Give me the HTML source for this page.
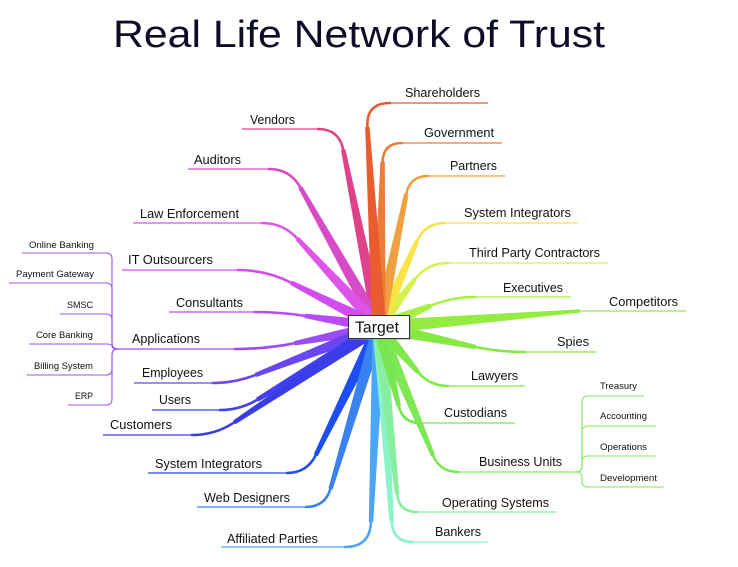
<!DOCTYPE html>
<html><head><meta charset="utf-8"><style>
html,body{margin:0;padding:0;background:#fff;}
svg{display:block;}
text{font-family:"Liberation Sans",Arial,sans-serif;fill:#111;}
.t{font-size:12.5px;}
.s{font-size:9.5px;}
.u{fill:none;stroke-width:1.3;}
.c{fill:none;stroke-width:2.6;stroke-linecap:round;}
</style></head><body>
<svg width="738" height="567" viewBox="0 0 738 567" xmlns="http://www.w3.org/2000/svg">
<text x="113" y="47" font-size="38" textLength="492" lengthAdjust="spacingAndGlyphs" style="fill:#0c0c26">Real Life Network of Trust</text>

<!-- left sub-bracket -->
<g fill="none" stroke="#9a55f0" stroke-width="1.1">
<path d="M22,253 L106,253 Q112,253 112,259 L112,343 Q112,349 118,349"/>
<path d="M9,283 L106,283 Q112,283 112,289 L112,343 Q112,349 118,349"/>
<path d="M60,314 L106,314 Q112,314 112,320 L112,343 Q112,349 118,349"/>
<path d="M29,344 L106,344 Q112,344 112,346 Q112,349 118,349"/>
<path d="M27,375 L106,375 Q112,375 112,369 L112,355 Q112,349 118,349"/>
<path d="M68,405 L106,405 Q112,405 112,399 L112,355 Q112,349 118,349"/>
</g>
<!-- right sub-bracket -->
<g fill="none" stroke="#7ee860" stroke-width="1.1">
<path d="M644,396 L588,396 Q582,396 582,402 L582,466 Q582,472 576,472"/>
<path d="M656,426 L588,426 Q582,426 582,432 L582,466 Q582,472 576,472"/>
<path d="M656,456 L588,456 Q582,456 582,462 L582,466 Q582,472 576,472"/>
<path d="M664,487 L588,487 Q582,487 582,481 L582,478 Q582,472 576,472"/>
</g>

<!-- LEFT branches -->
<g>
<polygon fill="#e0428a" points="385.4,325.7 345.4,149.2 341.0,150.0 372.6,328.3"/>
<path class="c" stroke="#e0428a" d="M343.2,149.6 Q339,129 318,129"/>
<path class="u" stroke="#e0428a" d="M318,129 L242,129"/>

<polygon fill="#d84bc6" points="384.7,323.8 302.2,186.2 298.4,188.4 373.3,330.2"/>
<path class="c" stroke="#d84bc6" d="M300.3,187.3 Q290,169 269,169"/>
<path class="u" stroke="#d84bc6" d="M269,169 L188,169"/>

<polygon fill="#dd55e6" points="383.8,322.6 298.8,236.9 295.6,239.9 374.2,331.4"/>
<path class="c" stroke="#dd55e6" d="M297.2,238.4 Q283,223 262,223"/>
<path class="u" stroke="#dd55e6" d="M262,223 L133,223"/>

<polygon fill="#d24cf0" points="381.9,321.2 292,280.6 290,284.6 376.1,332.8"/>
<path class="c" stroke="#d24cf0" d="M291,282.6 Q266,270 238,270"/>
<path class="u" stroke="#d24cf0" d="M238,270 L122,270"/>

<polygon fill="#b84cf4" points="380,320.6 305,313.6 304.4,318 378,333.4"/>
<path class="c" stroke="#b84cf4" d="M304.7,315.8 Q280,312 255,312"/>
<path class="u" stroke="#b84cf4" d="M255,312 L169,312"/>

<polygon fill="#9c4cf4" points="377.8,320.6 294.1,341.1 294.9,345.5 380.2,333.4"/>
<path class="c" stroke="#9c4cf4" d="M294.5,343.3 Q265,349 235,349"/>
<path class="u" stroke="#9c4cf4" d="M235,349 L117,349"/>

<polygon fill="#6a46f2" points="376.6,320.9 254.7,373 256.3,377 381.4,333.1"/>
<path class="c" stroke="#6a46f2" d="M255.5,375 Q235,383 213,383"/>
<path class="u" stroke="#6a46f2" d="M213,383 L134,383"/>

<polygon fill="#4040f0" points="375.7,321.4 256.1,397.8 258.3,401.6 382.3,332.6"/>
<path class="c" stroke="#4040f0" d="M257.2,399.7 Q240,410 220,410"/>
<path class="u" stroke="#4040f0" d="M220,410 L152,410"/>

<polygon fill="#3a3ce6" points="375.4,321.6 233,420.6 235.4,424.2 382.6,332.4"/>
<path class="c" stroke="#3a3ce6" d="M234.2,422.4 Q215,435 192,435"/>
<path class="u" stroke="#3a3ce6" d="M192,435 L103,435"/>

<polygon fill="#1e4ef2" points="373.2,324.1 313.8,454.1 317.8,456.1 384.8,329.9"/>
<path class="c" stroke="#1e4ef2" d="M315.8,455.1 Q307,473 287,473"/>
<path class="u" stroke="#1e4ef2" d="M287,473 L148,473"/>

<polygon fill="#3a82f2" points="372.8,325.1 328.4,488.2 332.6,489.4 385.2,328.9"/>
<path class="c" stroke="#3a82f2" d="M330.5,488.8 Q325,507 306,507"/>
<path class="u" stroke="#3a82f2" d="M306,507 L197,507"/>

<polygon fill="#4aa6f6" points="372.5,326.7 368.8,522 373.2,522 385.5,327.3"/>
<path class="c" stroke="#4aa6f6" d="M371,522 Q370,547 345,547"/>
<path class="u" stroke="#4aa6f6" d="M345,547 L221,547"/>
</g>

<!-- RIGHT branches -->
<g>
<polygon fill="#88f4c8" points="372.5,327.4 389.5,522.1 393.9,521.9 385.5,326.6"/>
<path class="c" stroke="#88f4c8" d="M391.7,522 Q393,542 413,542"/>
<path class="u" stroke="#88f4c8" d="M413,542 L488,542"/>

<polygon fill="#86f0a0" points="372.5,327.7 394.9,494.3 399.3,493.9 385.5,326.3"/>
<path class="c" stroke="#86f0a0" d="M397.1,494.1 Q399,512 417,512"/>
<path class="u" stroke="#86f0a0" d="M417,512 L557,512"/>

<polygon fill="#7ee854" points="373,329.5 431,456.3 435,454.6 385,324.5"/>
<path class="c" stroke="#7ee854" d="M433,455.4 Q440,472 458,472"/>
<path class="u" stroke="#7ee854" d="M458,472 L577,472"/>

<polygon fill="#78e650" points="372.7,328.6 396.8,407 401,406 385.3,325.4"/>
<path class="c" stroke="#78e650" d="M398.9,406.5 Q403,423 420,423"/>
<path class="u" stroke="#78e650" d="M420,423 L515,423"/>

<polygon fill="#80e84a" points="374.1,331.3 416.5,373.8 419.9,371 383.9,322.8"/>
<path class="c" stroke="#80e84a" d="M418.2,372.4 Q430,386 448,386"/>
<path class="u" stroke="#80e84a" d="M448,386 L525,386"/>

<polygon fill="#86e844" points="377.6,333.9 475.1,349.2 475.9,344.9 380.4,320.2"/>
<path class="c" stroke="#86e844" d="M475.5,347 Q500,352 525,352"/>
<path class="u" stroke="#86e844" d="M525,352 L596,352"/>

<polygon fill="#94ec42" points="379.6,334 580.1,312.6 579.9,309.4 378.4,320"/>
<path class="u" stroke="#94ec42" d="M579,311 L686,311"/>

<polygon fill="#a8f044" points="381.7,333.5 431.7,308 429.8,303.4 376.3,320.5"/>
<path class="c" stroke="#a8f044" stroke-width="3" d="M430.7,305.7 Q452,297 475,297"/>
<path class="u" stroke="#a8f044" d="M475,297 L571,297"/>

<polygon fill="#d6f24a" points="384.2,330.9 416.2,281.1 412.6,278.5 373.8,323.1"/>
<path class="c" stroke="#d6f24a" d="M414.4,279.8 Q427,263 448,263"/>
<path class="u" stroke="#d6f24a" d="M448,263 L608,263"/>

<polygon fill="#f8e448" points="385,329.6 418.9,242.2 414.9,240.4 373,324.4"/>
<path class="c" stroke="#f8e448" d="M416.9,241.3 Q425,223 445,223"/>
<path class="u" stroke="#f8e448" d="M445,223 L578,223"/>

<polygon fill="#f0a040" points="385.4,328.3 408.6,194 404.2,193.2 372.6,325.7"/>
<path class="c" stroke="#f0a040" d="M406.4,193.6 Q410,176 428,176"/>
<path class="u" stroke="#f0a040" d="M428,176 L505,176"/>

<polygon fill="#ec7c36" points="385.5,327.1 384.8,162 380.4,162 372.5,326.9"/>
<path class="c" stroke="#ec7c36" d="M382.6,162 Q383,143 402,143"/>
<path class="u" stroke="#ec7c36" d="M402,143 L502,143"/>

<polygon fill="#e85c30" points="386,326.6 369.6,126.9 365.2,127.1 372,327.4"/>
<path class="c" stroke="#e85c30" d="M367.4,127 Q366,103 390,103"/>
<path class="u" stroke="#e85c30" d="M390,103 L488,103"/>
</g>

<!-- Target box -->
<rect x="349.5" y="316.5" width="61" height="23" fill="#999"/>
<rect x="348.5" y="315.5" width="61" height="23" fill="#fff" stroke="#333" stroke-width="1"/>
<text x="355" y="332.5" font-size="15.5" textLength="44" lengthAdjust="spacingAndGlyphs">Target</text>

<!-- Left labels -->
<text class="t" x="250" y="124" textLength="45" lengthAdjust="spacingAndGlyphs">Vendors</text>
<text class="t" x="194" y="164" textLength="47" lengthAdjust="spacingAndGlyphs">Auditors</text>
<text class="t" x="140" y="218" textLength="99" lengthAdjust="spacingAndGlyphs">Law Enforcement</text>
<text class="t" x="128" y="264" textLength="85" lengthAdjust="spacingAndGlyphs">IT Outsourcers</text>
<text class="t" x="176" y="307" textLength="67" lengthAdjust="spacingAndGlyphs">Consultants</text>
<text class="t" x="132" y="343" textLength="68" lengthAdjust="spacingAndGlyphs">Applications</text>
<text class="t" x="142" y="377" textLength="61" lengthAdjust="spacingAndGlyphs">Employees</text>
<text class="t" x="159" y="404" textLength="32" lengthAdjust="spacingAndGlyphs">Users</text>
<text class="t" x="110" y="429" textLength="62" lengthAdjust="spacingAndGlyphs">Customers</text>
<text class="t" x="155" y="468" textLength="107" lengthAdjust="spacingAndGlyphs">System Integrators</text>
<text class="t" x="204" y="502" textLength="86" lengthAdjust="spacingAndGlyphs">Web Designers</text>
<text class="t" x="227" y="543" textLength="91" lengthAdjust="spacingAndGlyphs">Affiliated Parties</text>

<text class="s" x="29" y="248" textLength="65" lengthAdjust="spacingAndGlyphs">Online Banking</text>
<text class="s" x="16" y="277" textLength="78" lengthAdjust="spacingAndGlyphs">Payment Gateway</text>
<text class="s" x="67" y="308" textLength="26" lengthAdjust="spacingAndGlyphs">SMSC</text>
<text class="s" x="36" y="338" textLength="57" lengthAdjust="spacingAndGlyphs">Core Banking</text>
<text class="s" x="34" y="369" textLength="59" lengthAdjust="spacingAndGlyphs">Billing System</text>
<text class="s" x="75" y="399" textLength="18" lengthAdjust="spacingAndGlyphs">ERP</text>

<!-- Right labels -->
<text class="t" x="405" y="97" textLength="75" lengthAdjust="spacingAndGlyphs">Shareholders</text>
<text class="t" x="424" y="137" textLength="70" lengthAdjust="spacingAndGlyphs">Government</text>
<text class="t" x="450" y="170" textLength="47" lengthAdjust="spacingAndGlyphs">Partners</text>
<text class="t" x="464" y="217" textLength="107" lengthAdjust="spacingAndGlyphs">System Integrators</text>
<text class="t" x="469" y="257" textLength="131" lengthAdjust="spacingAndGlyphs">Third Party Contractors</text>
<text class="t" x="503" y="292" textLength="60" lengthAdjust="spacingAndGlyphs">Executives</text>
<text class="t" x="609" y="306" textLength="69" lengthAdjust="spacingAndGlyphs">Competitors</text>
<text class="t" x="557" y="346" textLength="32" lengthAdjust="spacingAndGlyphs">Spies</text>
<text class="t" x="471" y="380" textLength="47" lengthAdjust="spacingAndGlyphs">Lawyers</text>
<text class="t" x="444" y="417" textLength="63" lengthAdjust="spacingAndGlyphs">Custodians</text>
<text class="t" x="479" y="466" textLength="83" lengthAdjust="spacingAndGlyphs">Business Units</text>
<text class="t" x="442" y="507" textLength="107" lengthAdjust="spacingAndGlyphs">Operating Systems</text>
<text class="t" x="435" y="536" textLength="46" lengthAdjust="spacingAndGlyphs">Bankers</text>

<text class="s" x="600" y="389" textLength="37" lengthAdjust="spacingAndGlyphs">Treasury</text>
<text class="s" x="600" y="419" textLength="47" lengthAdjust="spacingAndGlyphs">Accounting</text>
<text class="s" x="600" y="450" textLength="47" lengthAdjust="spacingAndGlyphs">Operations</text>
<text class="s" x="600" y="481" textLength="57" lengthAdjust="spacingAndGlyphs">Development</text>
</svg>
</body></html>
